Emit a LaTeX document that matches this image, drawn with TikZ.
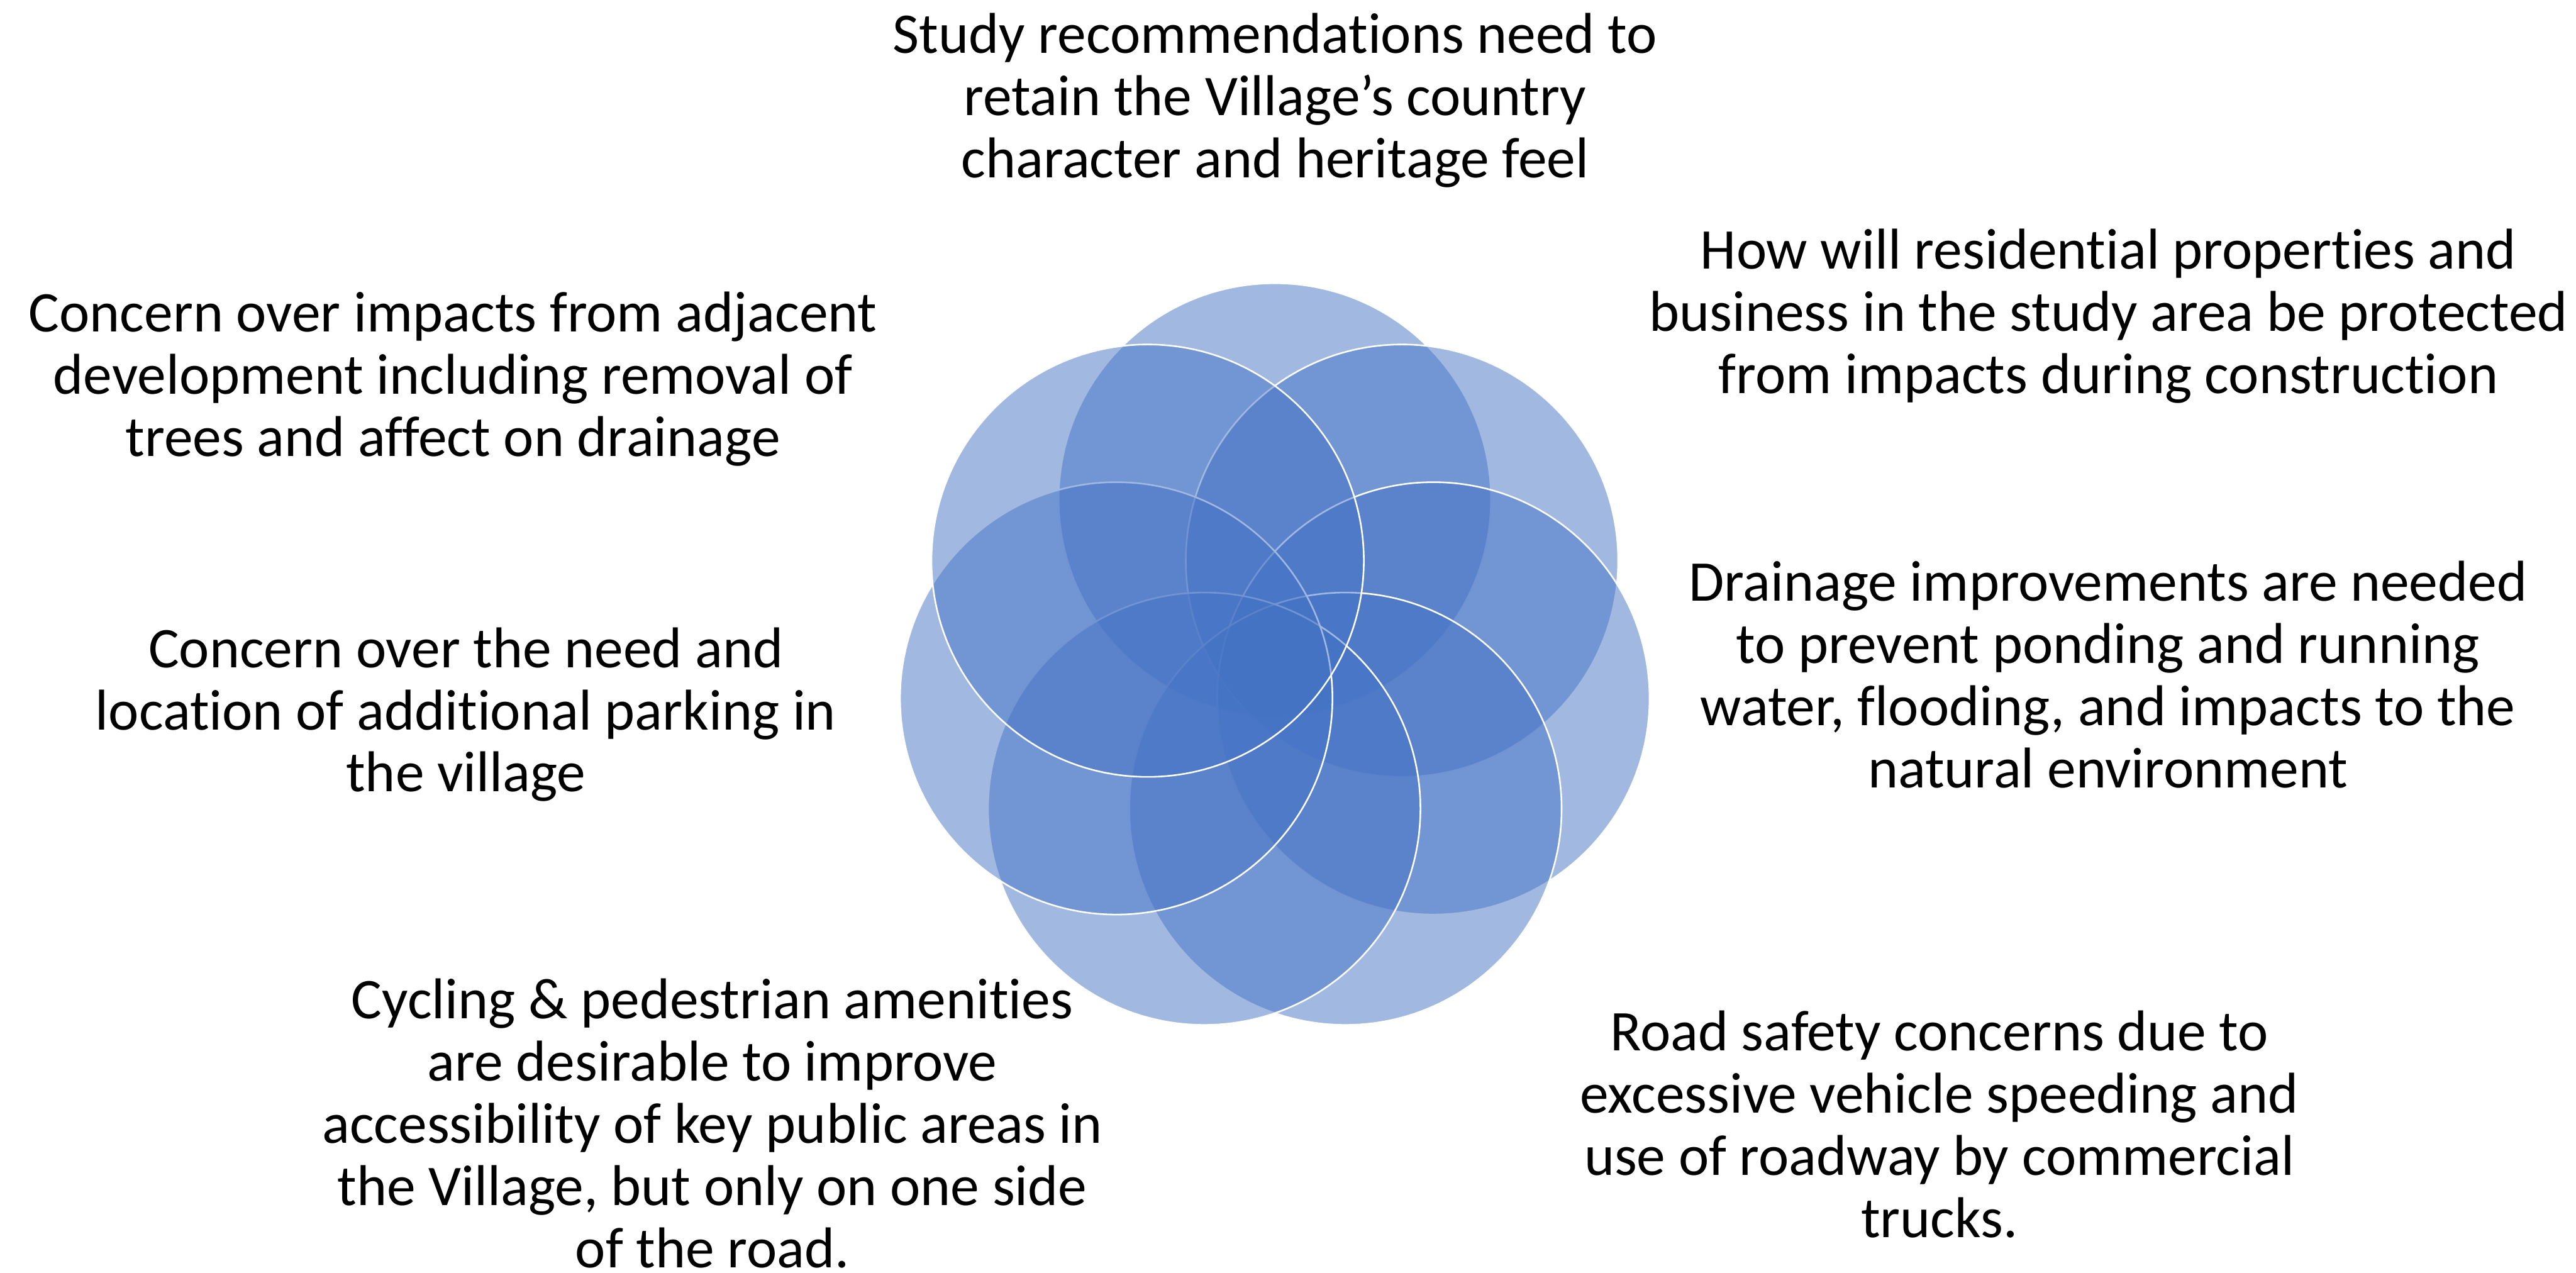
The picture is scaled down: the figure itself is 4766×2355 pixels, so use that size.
\documentclass[tikz,border=0pt]{standalone}
\usepackage{fontspec}
\setmainfont{Carlito}[Ligatures=NoCommon]
\definecolor{accent}{HTML}{4472C4}
\begin{document}
\begin{tikzpicture}[x=0.1pt,y=-0.1pt,
  petal/.style={circle, minimum size=80pt, inner sep=0pt, fill=accent, fill opacity=0.5,
                draw=white, draw opacity=1, line width=0.3pt},
  note/.style={anchor=north, inner sep=0pt, align=center, text=black,
               font=\fontsize{10.65}{11.5}\selectfont,
               execute at begin node={\rule{0pt}{10pt}}}]
\useasboundingbox (0,0) rectangle (4766,2355);

% seven overlapping circles, drawn clockwise from the top
\node[petal] (c1) at (2358.6,924.0) {};
\node[petal] (c2) at (2593.9,1037.3) {};
\node[petal] (c3) at (2652.0,1292.0) {};
\node[petal] (c4) at (2489.2,1496.2) {};
\node[petal] (c5) at (2228.0,1496.2) {};
\node[petal] (c6) at (2065.2,1292.0) {};
\node[petal] (c7) at (2123.3,1037.3) {};

% surrounding statements
\node[note] (t1) at (2359,23) {Study recommendations need to\\retain the Village’s country\\character and heritage feel};
\node[note] (t2) at (3901,422) {How will residential properties and\\business in the study area be protected\\from impacts during construction};
\node[note] (t3) at (3900,1036) {Drainage improvements are needed\\to prevent ponding and running\\water, flooding, and impacts to the\\natural environment};
\node[note] (t4) at (3588,1868) {Road safety concerns due to\\excessive vehicle speeding and\\use of roadway by commercial\\trucks.};
\node[note, text depth=0pt] (t5) at (1318,1809) {Cycling \& pedestrian amenities\\are desirable to improve\\accessibility of key public areas in\\the Village, but only on one side\\of the road.};
\node[note] (t6) at (862,1159) {Concern over the need and\\location of additional parking in\\the village};
\node[note] (t7) at (838,538) {Concern over impacts from adjacent\\development including removal of\\trees and affect on drainage};
\end{tikzpicture}
\end{document}
